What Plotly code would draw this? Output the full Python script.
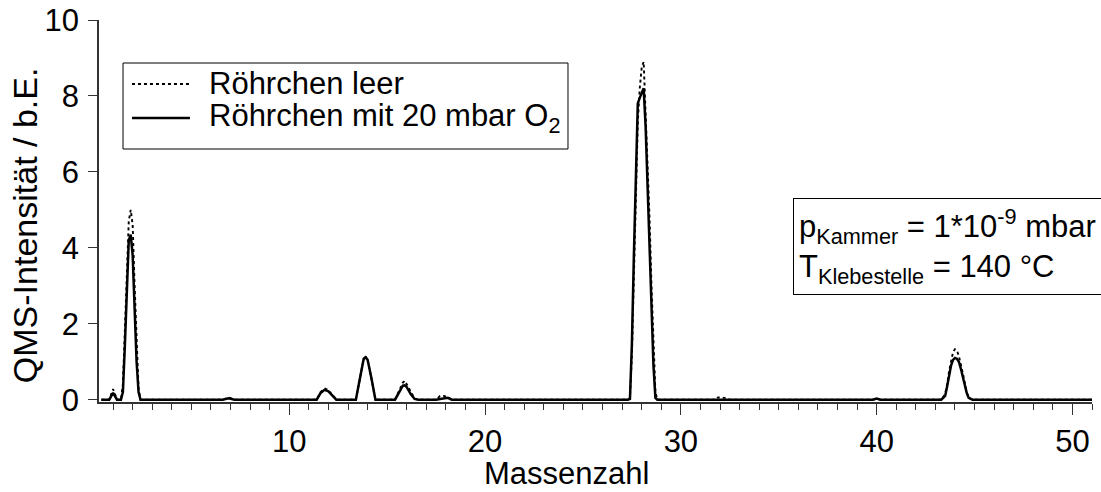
import plotly.graph_objects as go

# Mass numbers (shared x grid, dense around peaks)
mass = [0.4, 0.8, 1.0, 1.2, 1.4, 1.5, 1.6, 1.7, 1.8, 1.9, 2.0, 2.1, 2.2, 2.3, 2.4,
        6.6, 6.9, 7.2,
        11.4, 11.6, 11.8, 12.0, 12.2, 12.4,
        13.4, 13.6, 13.8, 13.9, 14.0, 14.2, 14.4,
        15.4, 15.6, 15.8, 15.9, 16.0, 16.2, 16.4, 16.6,
        17.5, 17.7, 17.9, 18.1, 18.3,
        27.3, 27.4, 27.5, 27.6, 27.7, 27.8, 27.9, 28.0, 28.1, 28.2, 28.3, 28.4, 28.5, 28.6, 28.7, 28.8,
        31.8, 31.9, 32.1, 32.3, 32.5,
        39.8, 40.0, 40.2,
        43.3, 43.5, 43.6, 43.7, 43.8, 43.9, 44.0, 44.1, 44.2, 44.3, 44.4, 44.5, 44.6, 44.7, 44.9,
        51.0]

# Röhrchen leer (dotted)
leer = [0, 0, 0.28, 0, 0, 0.4, 1.8, 3.4, 4.7, 5.0, 4.6, 3.0, 1.4, 0.3, 0,
        0, 0.06, 0,
        0, 0.2, 0.3, 0.25, 0.12, 0,
        0, 0.5, 1.08, 1.12, 1.05, 0.55, 0,
        0, 0.25, 0.45, 0.5, 0.4, 0.2, 0.03, 0,
        0, 0.1, 0.1, 0.06, 0,
        0, 0.05, 1.2, 3.5, 5.8, 7.3, 8.2, 8.75, 8.9, 7.6, 6.3, 4.8, 3.0, 1.3, 0.2, 0,
        0, 0.06, 0.06, 0.04, 0,
        0, 0.03, 0,
        0, 0.15, 0.4, 0.75, 1.05, 1.25, 1.33, 1.3, 1.15, 0.95, 0.7, 0.45, 0.2, 0.05, 0,
        0]

# Röhrchen mit 20 mbar O2 (solid)
o2 = [0, 0, 0.18, 0, 0, 0.2, 1.4, 2.9, 4.2, 4.35, 3.8, 2.4, 1.0, 0.2, 0,
      0, 0.04, 0,
      0, 0.18, 0.26, 0.22, 0.1, 0,
      0, 0.5, 1.08, 1.12, 1.05, 0.55, 0,
      0, 0.2, 0.37, 0.38, 0.33, 0.15, 0.02, 0,
      0, 0.02, 0.03, 0.05, 0,
      0, 0.02, 1.5, 3.8, 6.2, 7.8, 7.95, 8.1, 8.2, 7.2, 5.6, 4.0, 2.4, 0.9, 0.05, 0,
      0, 0, 0, 0, 0,
      0, 0.03, 0,
      0, 0.1, 0.35, 0.65, 0.9, 1.05, 1.1, 1.08, 1.0, 0.82, 0.6, 0.38, 0.18, 0.05, 0,
      0]

series_names = ["Röhrchen leer", "Röhrchen mit 20 mbar O<sub>2</sub>"]
x_ticks = [10, 20, 30, 40, 50]
y_ticks = [0, 2, 4, 6, 8, 10]

FONT = "Liberation Sans, Arial, sans-serif"
TICK_FS = 31
XTITLE_FS = 31
YTITLE_FS = 34
BOX_FS = 31
AX = "#333"

fig = go.Figure()
fig.add_trace(go.Scatter(x=mass, y=leer, mode="lines", name=series_names[0],
                         line=dict(color="black", width=1.9, dash="dot"), showlegend=False))
fig.add_trace(go.Scatter(x=mass, y=o2, mode="lines", name=series_names[1],
                         line=dict(color="black", width=2.5), showlegend=False))

fig.update_layout(
    width=1101, height=492,
    margin=dict(l=99, r=9, t=20, b=90, autoexpand=False),
    paper_bgcolor="white", plot_bgcolor="white",
    font=dict(family=FONT, size=TICK_FS, color="black"),
    showlegend=False,
    xaxis=dict(range=[0.28, 51], tickvals=x_ticks, ticks="outside", ticklen=11,
               tickcolor=AX, tickwidth=1.2, showline=True, linecolor=AX, linewidth=1.5,
               showgrid=False, zeroline=False, automargin=False, ticklabeloverflow="allow",
               minor=dict(dtick=1, tick0=0, ticks="outside", ticklen=6, tickcolor=AX,
                          tickwidth=1, showgrid=False),
               tickfont=dict(size=TICK_FS)),
    yaxis=dict(range=[-0.06, 10], tickvals=y_ticks, ticks="outside", ticklen=9,
               tickcolor=AX, tickwidth=1.2, showline=True, linecolor=AX, linewidth=1.5,
               showgrid=False, zeroline=False, automargin=False, ticklabelstandoff=3,
               ticklabeloverflow="allow", tickfont=dict(size=TICK_FS)),
)

# Axis titles
fig.add_annotation(xref="paper", yref="paper", x=0.471, y=-0.188, xanchor="center", yanchor="middle",
                   text="Massenzahl", showarrow=False, font=dict(size=XTITLE_FS, family=FONT))
fig.add_annotation(xref="paper", yref="paper", x=-0.0745, y=0.463, xanchor="center", yanchor="middle",
                   text="QMS-Intensität / b.E.", textangle=-90, showarrow=False,
                   font=dict(size=YTITLE_FS, family=FONT))

# Legend (box, line samples, labels)
fig.add_shape(type="rect", xref="paper", yref="paper", x0=0.0242, x1=0.4723, y0=0.6623, y1=0.8874,
              line=dict(color="black", width=1), fillcolor="white", layer="above")
fig.add_shape(type="line", xref="paper", yref="paper", x0=0.0332, x1=0.0916, y0=0.8325, y1=0.8325,
              line=dict(color="black", width=1.9, dash="dot"), layer="above")
fig.add_shape(type="line", xref="paper", yref="paper", x0=0.0332, x1=0.0916, y0=0.7435, y1=0.7435,
              line=dict(color="black", width=2.5), layer="above")
fig.add_annotation(xref="paper", yref="paper", x=0.1088, y=0.8325, xanchor="left", yanchor="middle",
                   text=series_names[0], showarrow=False, font=dict(size=BOX_FS, family=FONT))
fig.add_annotation(xref="paper", yref="paper", x=0.1088, y=0.7435, xanchor="left", yanchor="middle",
                   text=series_names[1], showarrow=False, font=dict(size=BOX_FS, family=FONT))

# Condition box
fig.add_annotation(
    xref="paper", yref="paper", x=0.6986, y=0.534, xanchor="left", yanchor="top",
    text="p<sub>Kammer</sub> = 1*10<sup>-9</sup> mbar<br>T<sub>Klebestelle</sub> = 140 °C",
    showarrow=False, align="left", font=dict(size=BOX_FS, family=FONT, color="black"),
    bordercolor="black", borderwidth=1, borderpad=5, bgcolor="white",
)

# remove the default page margin so the 1101x492 figure fills the window exactly
fig.write_html(
    "out.html",
    config={"displayModeBar": False},
    post_script="document.body.style.margin='0';document.body.style.overflow='hidden';",
)
